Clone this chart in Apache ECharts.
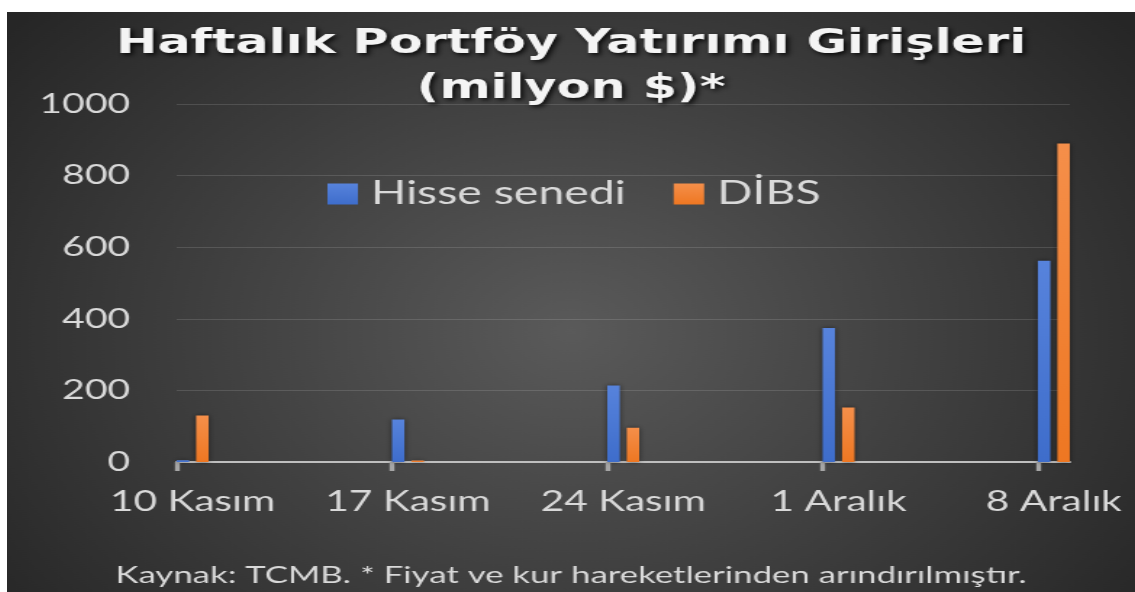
<!DOCTYPE html>
<html>
<head>
<meta charset="utf-8">
<script src="https://cdn.jsdelivr.net/npm/echarts@6/dist/echarts.min.js"></script>
<style>
  html, body { margin: 0; padding: 0; background: #ffffff; overflow: hidden; }
  /* the original picture is stretched sideways, so draw narrow and stretch it */
  #chart {
    position: absolute; left: 7px; top: 12px;
    width: 778px; height: 580px;
    transform: scaleX(1.45); transform-origin: 0 0;
  }
</style>
</head>
<body>
<div id="chart"></div>
<script>
const categories = ['10 Kasım', '17 Kasım', '24 Kasım', '1 Aralık', '8 Aralık'];
const hisseSenedi = [5, 119, 214, 374, 562];
const dibs = [130, 4, 96, 152, 890];
const yTicks = [0, 200, 400, 600, 800, 1000];

// bar pairs sit just right of each tick mark
const shift = 0.0743;

let chart = echarts.init(document.getElementById('chart'));

let option = {
  backgroundColor: {
    type: 'radial', x: 0.5, y: 0.55, r: 0.85,
    colorStops: [
      { offset: 0, color: '#5a5a5a' },
      { offset: 1, color: '#262626' }
    ]
  },
  title: [
    {
      text: 'Haftalık Portföy Yatırımı Girişleri\n(milyon $)*',
      left: 'center',
      top: 5,
      textStyle: {
        fontFamily: 'DejaVu Sans',
        fontWeight: 'bold',
        fontSize: 34,
        lineHeight: 45,
        color: '#f4f4f4',
        textShadowColor: 'rgba(0,0,0,0.85)',
        textShadowBlur: 4,
        textShadowOffsetX: 2,
        textShadowOffsetY: 2
      }
    },
    {
      text: 'Kaynak: TCMB. * Fiyat ve kur hareketlerinden arındırılmıştır.',
      left: 'center',
      top: 546,
      textStyle: {
        fontFamily: 'Lato',
        fontWeight: 'normal',
        fontSize: 24,
        color: '#d9d9d9'
      }
    }
  ],
  legend: {
    data: ['Hisse senedi', 'DİBS'],
    left: 216,
    top: 161,
    icon: 'rect',
    itemWidth: 21,
    itemHeight: 21,
    itemGap: 33,
    textStyle: {
      fontFamily: 'Lato',
      fontSize: 32,
      color: '#d9d9d9',
      padding: [0, 0, 0, 4]
    }
  },
  grid: {
    left: 117,
    right: 45,
    top: 92,
    bottom: 130
  },
  xAxis: {
    type: 'value',
    min: -shift,
    max: categories.length - 1 + shift,
    axisLine: { show: true, lineStyle: { color: '#bfbfbf', width: 2 } },
    axisTick: {
      show: true,
      length: 9,
      customValues: categories.map((c, i) => i - shift),
      lineStyle: { color: '#a6a6a6', width: 3.4 }
    },
    axisLabel: {
      customValues: categories.map((c, i) => i),
      formatter: function (v) { return categories[Math.round(v)]; },
      margin: 26,
      fontFamily: 'Lato',
      fontSize: 28,
      color: '#d9d9d9'
    },
    splitLine: { show: false }
  },
  yAxis: {
    type: 'value',
    min: yTicks[0],
    max: yTicks[yTicks.length - 1],
    interval: 200,
    axisLine: { show: false },
    axisTick: { show: false },
    axisLabel: {
      margin: 32,
      formatter: function (v) { return String(v); },
      fontFamily: 'Lato',
      fontSize: 27,
      color: '#d9d9d9'
    },
    splitLine: { lineStyle: { color: 'rgba(255,255,255,0.13)', width: 1 } }
  },
  series: [
    {
      name: 'Hisse senedi',
      type: 'bar',
      barWidth: 8.6,
      barGap: '56%',
      itemStyle: {
        color: new echarts.graphic.LinearGradient(0, 0, 0, 1, [
          { offset: 0, color: '#5783dc' },
          { offset: 1, color: '#3e6dcb' }
        ]),
        shadowColor: 'rgba(0,0,0,0.5)',
        shadowBlur: 4
      },
      data: hisseSenedi.map((v, i) => [i, v])
    },
    {
      name: 'DİBS',
      type: 'bar',
      barWidth: 8.6,
      barGap: '56%',
      itemStyle: {
        color: new echarts.graphic.LinearGradient(0, 0, 0, 1, [
          { offset: 0, color: '#f58f4a' },
          { offset: 1, color: '#ee7722' }
        ]),
        shadowColor: 'rgba(0,0,0,0.5)',
        shadowBlur: 4
      },
      data: dibs.map((v, i) => [i, v])
    }
  ]
};

chart.setOption(option);
</script>
</body>
</html>
